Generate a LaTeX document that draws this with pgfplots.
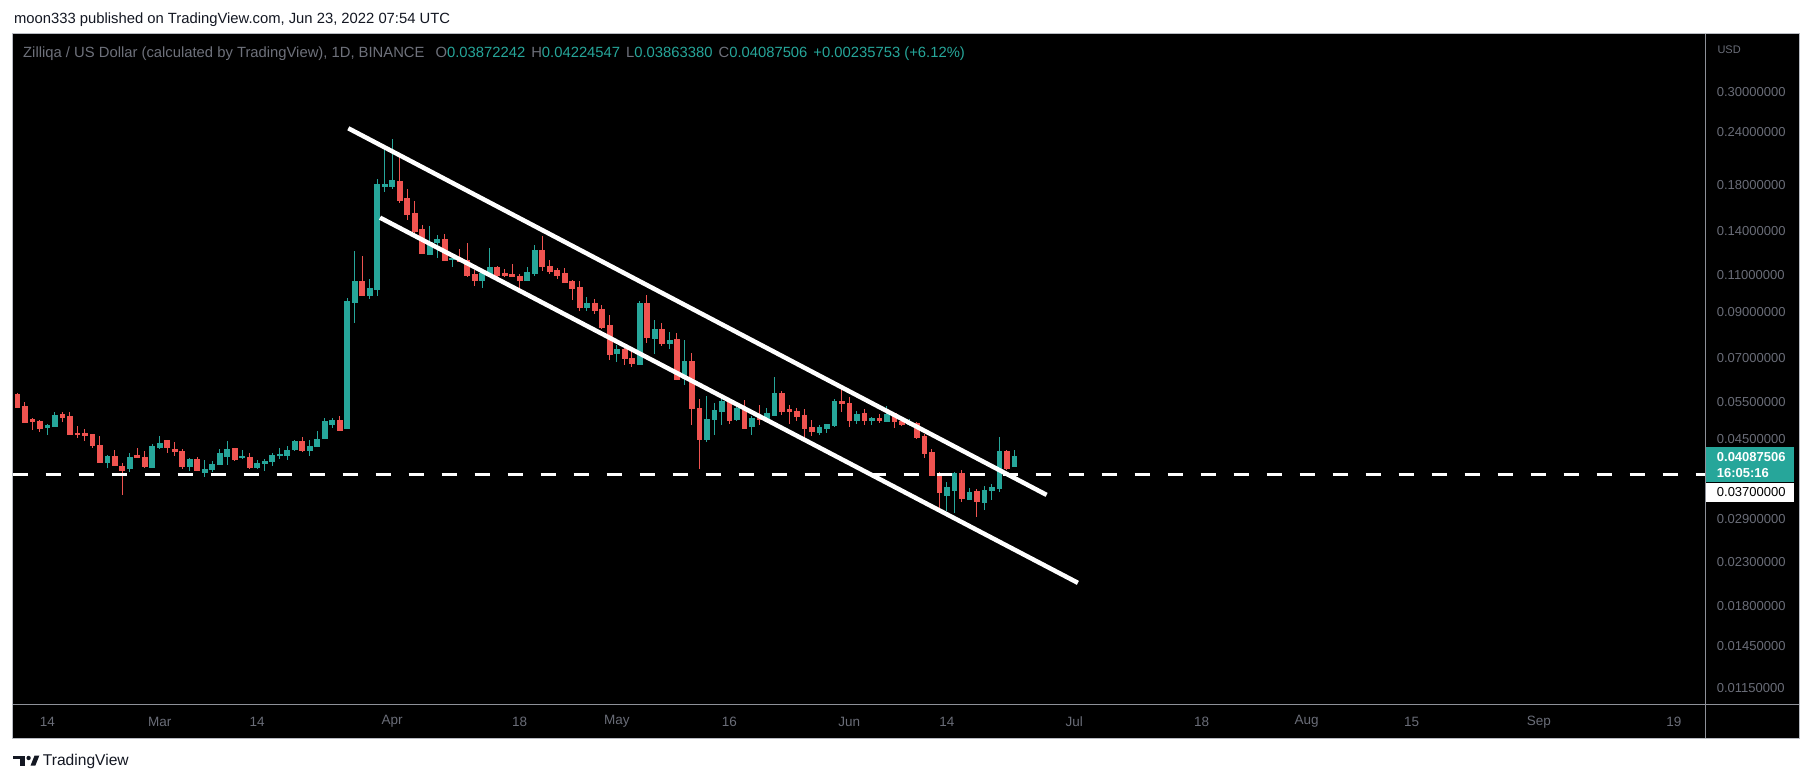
\documentclass[border=0pt]{standalone}
\usepackage{fontspec}
\setmainfont{Liberation Sans}
\usepackage{pgfplots}
\usepackage{pgfplotstable}
\pgfplotsset{compat=1.18}
\definecolor{tvred}{HTML}{EF5350}
\definecolor{tvgreen}{HTML}{26A69A}
\definecolor{tvgrey}{HTML}{6E717B}
\definecolor{tickgrey}{HTML}{6A6D78}
\definecolor{tvdark}{HTML}{131722}
\definecolor{sepgrey}{HTML}{8E9199}
\definecolor{bordergrey}{HTML}{B8BBC2}

% day index: 0 = 1 Apr 2022 ; columns open high low close (USD)
\pgfplotstableread{
d o h l c
-50 0.05749 0.05780 0.05325 0.05354
-49 0.05384 0.05503 0.04914 0.04914
-48 0.04995 0.05042 0.04730 0.04952
-47 0.04960 0.04995 0.04679 0.04774
-46 0.04782 0.04888 0.04602 0.04853
-45 0.04808 0.05210 0.04800 0.05125
-44 0.05153 0.05210 0.04941 0.05070
-43 0.05097 0.05210 0.04602 0.04620
-42 0.04628 0.04827 0.04520 0.04602
-41 0.04645 0.04748 0.04454 0.04595
-40 0.04620 0.04620 0.04287 0.04334
-39 0.04351 0.04570 0.03950 0.03950
-38 0.03950 0.04119 0.03830 0.04097
-37 0.04097 0.04233 0.03879 0.03900
-36 0.03879 0.03936 0.03310 0.03781
-35 0.03822 0.04158 0.03760 0.04075
-34 0.04119 0.04280 0.04060 0.04060
-33 0.04075 0.04210 0.03843 0.03879
-32 0.03858 0.04366 0.03843 0.04327
-31 0.04303 0.04570 0.04257 0.04398
-30 0.04454 0.04471 0.04172 0.04287
-29 0.04257 0.04422 0.04103 0.04194
-28 0.04210 0.04257 0.03822 0.03864
-27 0.03864 0.04053 0.03781 0.04031
-26 0.04031 0.04068 0.03781 0.03781
-25 0.03754 0.04008 0.03660 0.03816
-24 0.03802 0.03987 0.03748 0.03922
-23 0.03907 0.04250 0.03900 0.04165
-22 0.04097 0.04447 0.03907 0.04257
-21 0.04280 0.04280 0.03987 0.04016
-20 0.04060 0.04233 0.04031 0.04082
-19 0.04075 0.04165 0.03822 0.03843
-18 0.03843 0.04001 0.03816 0.03943
-17 0.03929 0.04031 0.03774 0.03987
-16 0.03972 0.04172 0.03885 0.04119
-15 0.04103 0.04280 0.04038 0.04142
-14 0.04119 0.04327 0.04016 0.04233
-13 0.04257 0.04471 0.04217 0.04447
-12 0.04447 0.04545 0.04194 0.04233
-11 0.04233 0.04471 0.04103 0.04327
-10 0.04327 0.04696 0.04303 0.04495
-9 0.04520 0.05042 0.04495 0.04960
-8 0.04880 0.05042 0.04774 0.04987
-7 0.04987 0.05097 0.04696 0.04722
-6 0.04774 0.09715 0.04774 0.09557
-5 0.09505 0.12560 0.08474 0.10661
-4 0.10661 0.12222 0.09821 0.09875
-3 0.09875 0.10779 0.09662 0.10261
-2 0.10205 0.18616 0.09821 0.18115
-1 0.17918 0.22175 0.17339 0.18115
0 0.17918 0.23166 0.17627 0.18515
1 0.18414 0.20995 0.16328 0.16598
2 0.16780 0.17627 0.14879 0.15375
3 0.15459 0.16508 0.13634 0.14011
4 0.14165 0.14478 0.12356 0.12424
5 0.12356 0.14399 0.12289 0.13193
6 0.13193 0.13708 0.12089 0.13411
7 0.13411 0.13784 0.11892 0.11957
8 0.12022 0.12289 0.11508 0.12089
9 0.12089 0.12698 0.11827 0.11892
10 0.11957 0.13121 0.10896 0.11016
11 0.11077 0.11321 0.10366 0.10719
12 0.10719 0.11259 0.10261 0.11137
13 0.11137 0.12768 0.10956 0.11508
14 0.11508 0.11570 0.10896 0.11016
15 0.11137 0.11383 0.10896 0.11016
16 0.11077 0.11697 0.10896 0.10956
17 0.10956 0.11077 0.10149 0.10719
18 0.10719 0.11508 0.10719 0.11198
19 0.11137 0.12979 0.10956 0.12629
20 0.12629 0.13634 0.11259 0.11570
21 0.11570 0.11957 0.11077 0.11259
22 0.11321 0.11446 0.10779 0.11016
23 0.11137 0.11446 0.10544 0.10602
24 0.10661 0.10719 0.09609 0.10261
25 0.10316 0.10661 0.09048 0.09248
26 0.09248 0.09768 0.09048 0.09453
27 0.09453 0.09662 0.08900 0.09098
28 0.09148 0.09350 0.08200 0.08291
29 0.08381 0.08853 0.06923 0.07153
30 0.07192 0.07513 0.06848 0.07351
31 0.07351 0.07513 0.06736 0.06998
32 0.06998 0.07311 0.06662 0.06810
33 0.06773 0.09557 0.06736 0.09453
34 0.09453 0.09875 0.07596 0.07850
35 0.07807 0.08614 0.07153 0.08200
36 0.08200 0.08474 0.07472 0.07596
37 0.07596 0.08067 0.07351 0.07722
38 0.07764 0.08023 0.06240 0.06240
39 0.06274 0.07722 0.06039 0.06885
40 0.06885 0.07192 0.04853 0.05325
41 0.05325 0.05594 0.03816 0.04495
42 0.04495 0.05687 0.04422 0.05015
43 0.05015 0.05473 0.04595 0.05267
44 0.05238 0.05594 0.04853 0.05533
45 0.05503 0.05533 0.04880 0.04987
46 0.05015 0.05413 0.04960 0.05325
47 0.05296 0.05563 0.04748 0.04774
48 0.04827 0.05097 0.04595 0.05042
49 0.05070 0.05413 0.04853 0.05015
50 0.05042 0.05325 0.04933 0.05181
51 0.05125 0.06308 0.05125 0.05780
52 0.05780 0.05844 0.05125 0.05238
53 0.05296 0.05413 0.04880 0.05238
54 0.05238 0.05325 0.04960 0.05097
55 0.05125 0.05296 0.04471 0.04774
56 0.04800 0.04987 0.04570 0.04696
57 0.04671 0.04853 0.04595 0.04800
58 0.04774 0.04880 0.04645 0.04880
59 0.04853 0.05594 0.04800 0.05533
60 0.05533 0.06006 0.05210 0.05473
61 0.05473 0.05656 0.04800 0.04987
62 0.04987 0.05238 0.04880 0.05153
63 0.05181 0.05296 0.04853 0.04987
64 0.04987 0.05070 0.04853 0.05042
65 0.05042 0.05153 0.04906 0.04987
66 0.04960 0.05384 0.04960 0.05153
67 0.05181 0.05181 0.04774 0.04960
68 0.04960 0.05042 0.04827 0.04880
69 0.04880 0.05015 0.04827 0.04933
70 0.04906 0.04933 0.04495 0.04545
71 0.04570 0.04620 0.04053 0.04165
72 0.04187 0.04257 0.03693 0.03693
73 0.03733 0.03754 0.03083 0.03365
74 0.03310 0.03554 0.03033 0.03458
75 0.03402 0.03754 0.03000 0.03733
76 0.03733 0.03795 0.03186 0.03257
77 0.03239 0.03439 0.03221 0.03365
78 0.03383 0.03421 0.02936 0.03203
79 0.03186 0.03477 0.03050 0.03402
80 0.03402 0.03515 0.03221 0.03458
81 0.03439 0.04545 0.03365 0.04210
82 0.04210 0.04233 0.03795 0.03837
83 0.03872242 0.04224547 0.03863380 0.04087506
}\candles

\begin{document}
\begin{tikzpicture}
\useasboundingbox (0pt,0pt) rectangle (1813pt,783pt);
\fill[white] (0pt,0pt) rectangle (1813pt,783pt);
\fill[black] (12.7pt,44.7pt) rectangle (1799.3pt,749pt);
\begin{axis}[
  at={(12.7pt,78.7pt)}, anchor=south west,
  width=1693pt, height=670.3pt, scale only axis,
  xmin=-50.614, xmax=175.24,
  ymode=log, ymin=0.01054, ymax=0.41123,
  enlargelimits=false,
  axis line style={draw=none},
  major tick length=0pt, minor tick length=0pt,
  minor ytick={}, minor xtick={},
  xtick={-46,-31,-18,0,17,30,45,61,74,91,108,122,136,153,171},
  xticklabels={14,Mar,14,Apr,18,May,16,Jun,14,Jul,18,Aug,15,Sep,19},
  ytick={0.3,0.24,0.18,0.14,0.11,0.09,0.07,0.055,0.045,0.029,0.023,0.018,0.0145,0.0115},
  yticklabels={0.30000000,0.24000000,0.18000000,0.14000000,0.11000000,0.09000000,0.07000000,0.05500000,0.04500000,0.02900000,0.02300000,0.01800000,0.01450000,0.01150000},
  yticklabel pos=right,
  yticklabel style={anchor=west, inner sep=0pt, xshift=11pt, text=tickgrey, font=\fontsize{13}{15}\selectfont},
  xticklabel style={anchor=center, inner sep=0pt, yshift=-17.4pt, text=tickgrey, font=\fontsize{13.5}{15}\selectfont},
  clip=true,
]
\pgfplotstablegetrowsof{\candles}
\pgfmathtruncatemacro{\lastrow}{\pgfplotsretval-1}
\pgfplotsforeachungrouped \i in {0,...,\lastrow}{%
  \pgfplotstablegetelem{\i}{d}\of\candles \let\cd\pgfplotsretval
  \pgfplotstablegetelem{\i}{o}\of\candles \let\co\pgfplotsretval
  \pgfplotstablegetelem{\i}{h}\of\candles \let\ch\pgfplotsretval
  \pgfplotstablegetelem{\i}{l}\of\candles \let\cl\pgfplotsretval
  \pgfplotstablegetelem{\i}{c}\of\candles \let\cc\pgfplotsretval
  \ifdim\cc pt<\co pt \def\ccol{tvred}\else\def\ccol{tvgreen}\fi
  \pgfmathsetmacro\xa{\cd-0.32}%
  \pgfmathsetmacro\xb{\cd+0.32}%
  \edef\doit{%
    \noexpand\addplot[draw=\ccol, line width=1pt, forget plot] coordinates {(\cd,\cl) (\cd,\ch)};
    \noexpand\addplot[draw=\ccol, fill=\ccol, line width=0.7pt, forget plot] coordinates {(\xa,\co) (\xb,\co) (\xb,\cc) (\xa,\cc)} -- cycle;
  }\doit
}
% channel lines
\addplot[white, line width=4.5pt, forget plot] coordinates {(-5.84,0.2456) (87.31,0.03311)};
\addplot[white, line width=4.5pt, forget plot] coordinates {(-1.61,0.1507) (91.49,0.02047)};
% horizontal level 0.037
\addplot[white, line width=3pt, dash pattern=on 15pt off 18pt, forget plot] coordinates {(-50.614,0.037) (175.24,0.037)};
\end{axis}
% panel separators and border
\draw[sepgrey, line width=1pt] (1705.7pt,44.7pt) -- (1705.7pt,749pt);
\draw[sepgrey, line width=1pt] (12.7pt,78.7pt) -- (1799.3pt,78.7pt);
\draw[bordergrey, line width=1pt] (12.7pt,44.7pt) rectangle (1799.3pt,749pt);
% price labels
\fill[tvgreen] (1705.7pt,301.3pt) rectangle (1793.7pt,336pt);
\node[anchor=west, inner sep=0pt, text=white, font=\bfseries\fontsize{13}{15}\selectfont] at (1716.7pt,325.7pt) {0.04087506};
\node[anchor=west, inner sep=0pt, text=white, font=\bfseries\fontsize{13}{15}\selectfont] at (1716.7pt,309.7pt) {16:05:16};
\fill[white] (1705.7pt,281.3pt) rectangle (1793.7pt,299.7pt);
\node[anchor=west, inner sep=0pt, text=black, font=\fontsize{13}{15}\selectfont] at (1716.7pt,290.5pt) {0.03700000};
\node[anchor=west, inner sep=0pt, text=tickgrey, font=\fontsize{11}{13}\selectfont] at (1717.3pt,733pt) {USD};
% header
\node[anchor=west, inner sep=0pt, text=tvdark, font=\fontsize{14.8}{17}\selectfont] at (13.9pt,763.3pt) {moon333 published on TradingView.com, Jun 23, 2022 07:54 UTC};
\node[anchor=west, inner sep=0pt, font=\fontsize{14.8}{17}\selectfont] at (23pt,729.7pt) {%
  \textcolor{tvgrey}{Zilliqa / US Dollar (calculated by TradingView), 1D, BINANCE}\hspace{11pt}%
  \textcolor{tvgrey}{O}\textcolor{tvgreen}{0.03872242}\hspace{6pt}%
  \textcolor{tvgrey}{H}\textcolor{tvgreen}{0.04224547}\hspace{6pt}%
  \textcolor{tvgrey}{L}\textcolor{tvgreen}{0.03863380}\hspace{6pt}%
  \textcolor{tvgrey}{C}\textcolor{tvgreen}{0.04087506}\hspace{6pt}%
  \textcolor{tvgreen}{+0.00235753 (+6.12\%)}};
% TradingView logo
\fill[tvdark] (12.7pt,24.3pt) rectangle (25pt,27.3pt);
\fill[tvdark] (19.5pt,17.3pt) rectangle (25pt,27.3pt);
\fill[tvdark] (28.6pt,25pt) circle (2.2pt);
\fill[tvdark] (30.5pt,17.3pt) -- (35.3pt,17.3pt) -- (39.3pt,27.3pt) -- (34.5pt,27.3pt) -- cycle;
\node[anchor=west, inner sep=0pt, text=tvdark, font=\fontsize{15.6}{18}\selectfont] at (42.7pt,21.3pt) {TradingView};
\end{tikzpicture}
\end{document}
